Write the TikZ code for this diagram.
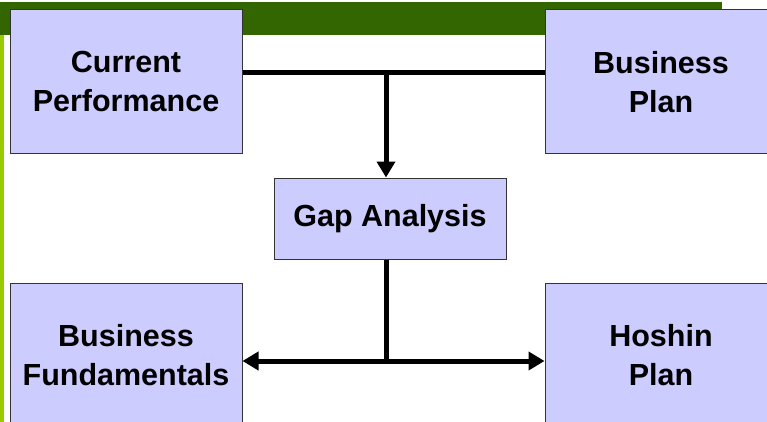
\documentclass[tikz,border=0pt]{standalone}
\usepackage{fontspec}
\setmainfont{Liberation Sans}
\usetikzlibrary{arrows.meta, positioning}
\definecolor{barGreen}{HTML}{336600}
\definecolor{edgeLime}{HTML}{99CC00}
\definecolor{boxBlue}{HTML}{CCCCFF}
\tikzset{
    stepbox/.style={draw=black!80, fill=boxBlue, line width=1pt, align=center,
        font=\fontsize{30.5}{39}\selectfont\bfseries, inner sep=0pt},
    bigbox/.style={stepbox, minimum width=232pt, minimum height=144pt},
    flow/.style={line width=5pt},
    flowarrow/.style={flow, -{Triangle[length=16pt, width=18pt]}}
}
\begin{document}
\begin{tikzpicture}[x=1pt, y=-1pt]
    \useasboundingbox (0,0) rectangle (767,422);
    \clip (0,0) rectangle (767,422);
    % slide decoration
    \fill[barGreen] (0,2) rectangle (722,35);
    \fill[edgeLime] (0,35) rectangle (4,422);
    % boxes
    \node[bigbox] (cp) at (126,82) {Current\\Performance};
    \node[bigbox] (bp) at (661,82) {Business\\Plan};
    \node[stepbox, minimum width=232pt, minimum height=81pt] (ga) at (390,218.5) {Gap Analysis};
    \node[bigbox] (bf) at (126,355) {Business\\Fundamentals};
    \node[bigbox] (hp) at (661,355) {Hoshin\\Plan};
    % junctions
    \coordinate (jt) at (386,73);
    \coordinate (jb) at (386,361);
    % connectors
    \draw[flow] (cp.east |- jt) -- (bp.west |- jt);
    \draw[flowarrow] (jt) -- (ga.north -| jt);
    \draw[flow] (ga.south -| jb) -- (jb);
    \draw[flowarrow] (jb) -- (bf.east |- jb);
    \draw[flowarrow] (jb) -- (hp.west |- jb);
\end{tikzpicture}
\end{document}
